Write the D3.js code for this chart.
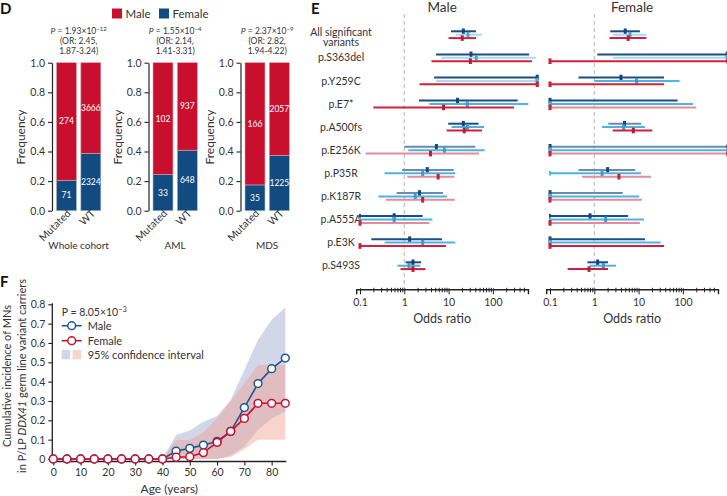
<!DOCTYPE html>
<html><head><meta charset="utf-8">
<script src="https://cdn.jsdelivr.net/npm/d3@7"></script>
<style>
body{margin:0;background:#fff}
text{font-family:Lato,"Open Sans",sans-serif;fill:#333}
</style>
</head><body>
<svg id="chart" width="727" height="496"></svg>
<script>
// ---------------- Panel D data ----------------
const dPanelNames = ["Whole cohort", "AML", "MDS"];
const dGroups = ["Mutated", "WT"];
const dMaleCounts = [[274, 3666], [102, 937], [166, 2057]];
const dFemaleCounts = [[71, 2324], [33, 648], [35, 1225]];
const dPMantissa = ["1.93", "1.55", "2.37"];
const dPExponent = ["\u221212", "\u22124", "\u22129"];
const dOR = ["2.45", "2.14", "2.82"];
const dORCI = ["1.87-3.24", "1.41-3.31", "1.94-4.22"];
const dTicks = [0, 0.2, 0.4, 0.6, 0.8, 1.0];
const sexLabels = ["Male", "Female"];

// ---------------- Panel E data ([OR, lower, upper]) ----------------
const eVariants = ["All significant variants", "p.S363del", "p.Y259C", "p.E7*", "p.A500fs",
  "p.E256K", "p.P35R", "p.K187R", "p.A555A", "p.E3K", "p.S493S"];
const eMaleMN = [[21.5, 11.3, 41.5], [32, 5.2, 660], [1000, 4.7, 1000], [15.9, 2.14, 363], [21.5, 9.8, 47.5],
  [5.3, 1.0, 40], [3.3, 0.9, 13], [2.2, 0.67, 7.5], [0.59, 0.1, 2.6], [1.32, 0.18, 7.1], [1.57, 1.07, 2.4]];
const eMaleAML = [[27.4, 14.4, 56.7], [42, 6.8, 940], [1000, 5.3, 1000], [26.5, 3.7, 630], [26.5, 11.7, 63],
  [8.0, 1.23, 65], [2.6, 0.36, 14.2], [1.77, 0.26, 9.3], [0.59, 0.1, 4.3], [2.6, 0.36, 14.2], [1.28, 0.70, 2.3]];
const eMaleMDS = [[20.3, 10, 41.5], [31, 4.1, 760], [1000, 2.2, 1000], [7.7, 0.20, 300], [22.6, 9.0, 56.7],
  [3.9, 0.134, 49], [5.8, 1.17, 13.5], [2.6, 0.38, 13.7], [0.1, 0.1, 3.7], [0.1, 0.1, 8.7], [1.57, 0.82, 3.0]];
const eFemaleMN = [[5.0, 2.3, 10.7], [1000, 1.17, 1000], [4.0, 0.44, 37.5], [0.1, 0.1, 76], [4.8, 2.07, 11.5],
  [0.1, 0.1, 1000], [2.0, 0.44, 8.4], [0.1, 0.1, 4.4], [0.80, 0.1, 5.8], [0.1, 0.1, 13.9], [1.19, 0.70, 2.04]];
const eFemaleAML = [[6.4, 2.6, 14.9], [1000, 2.6, 1000], [9.0, 1.0, 84], [0.1, 0.1, 169], [4.6, 1.5, 13.9],
  [0.1, 0.1, 1000], [1.5, 0.1, 11.3], [0.1, 0.1, 10.2], [1.8, 0.1, 13.2], [0.1, 0.1, 31.5], [1.6, 0.78, 3.1]];
const eFemaleMDS = [[5.8, 2.2, 14.9], [0.1, 0.1, 1000], [0.1, 0.1, 37.5], [0.1, 0.1, 200], [7.6, 2.6, 20.4],
  [0.1, 0.1, 1000], [3.6, 0.53, 19], [0.1, 0.1, 11.9], [0.1, 0.1, 10.7], [0.1, 0.1, 37.5], [0.76, 0.25, 2.04]];
// 1 = drawn in a pale tone in the original
const eMaleMNPale = [0, 0, 0, 0, 0, 1, 1, 1, 0, 0, 0];
const eMaleAMLPale = [1, 1, 1, 0, 0, 0, 0, 0, 0, 0, 0];
const eMaleMDSPale = [0, 0, 0, 0, 0, 1, 1, 1, 1, 0, 0];
const eFemaleMNPale = [0, 0, 0, 0, 1, 1, 1, 1, 0, 0, 0];
const eFemaleAMLPale = [1, 1, 0, 0, 0, 0, 0, 0, 0, 0, 0];
const eFemaleMDSPale = [0, 0, 0, 1, 0, 1, 1, 1, 1, 0, 0];
const eMajorTicks = [0.1, 1, 10, 100];
const eMinorTicks = [0.2, 0.3, 0.4, 0.5, 0.6, 0.7, 0.8, 0.9, 2, 3, 4, 5, 6, 7, 8, 9,
  20, 30, 40, 50, 60, 70, 80, 90, 200, 300, 400, 500];

// ---------------- Panel F data ----------------
const fAges = [0, 5, 10, 15, 20, 25, 30, 35, 40, 45, 50, 55, 60, 65, 70, 75, 80, 85];
const fMale = [0, 0, 0, 0, 0, 0, 0, 0, 0, 0.041, 0.055, 0.072, 0.091, 0.143, 0.266, 0.39, 0.467, 0.522];
const fFemale = [0, 0, 0, 0, 0, 0, 0, 0, 0, 0.009, 0.012, 0.033, 0.086, 0.143, 0.21, 0.288, 0.288, 0.288];
const fMaleLo = [0, 0, 0, 0, 0, 0, 0, 0, 0, 0, 0, 0, 0, 0.017, 0.064, 0.15, 0.21, 0.245];
const fMaleHi = [0, 0, 0, 0, 0, 0, 0, 0, 0, 0.124, 0.147, 0.193, 0.222, 0.305, 0.46, 0.616, 0.72, 0.783];
const fFemaleLo = [0, 0, 0, 0, 0, 0, 0, 0, 0, 0, 0, 0, 0, 0.01, 0.05, 0.10, 0.10, 0.10];
const fFemaleHi = [0, 0, 0, 0, 0, 0, 0, 0, 0, 0.098, 0.098, 0.138, 0.21, 0.297, 0.39, 0.486, 0.486, 0.486];
const fYTicks = [0, 0.1, 0.2, 0.3, 0.4, 0.5, 0.6, 0.7, 0.8];
const fXTicks = [0, 10, 20, 30, 40, 50, 60, 70, 80];

// ====================================================
const svg = d3.select("#chart");
const RED = "#c8102e", NAVY = "#124b80";
const TXT = "#333";

function letter(t, x, y) {
  svg.append("text").attr("x", x).attr("y", y).text(t)
    .attr("font-family", "Liberation Sans, Arial, sans-serif")
    .attr("font-weight", "bold").attr("font-size", 15).style("fill", "#111");
}
letter("D", 0, 14); letter("E", 311, 14); letter("F", 0, 287);

// ---------------- Panel D ----------------
const legX = d3.scalePoint().domain(sexLabels).range([112, 159]);
const legD = svg.append("g");
legD.selectAll("rect").data(sexLabels).join("rect")
  .attr("x", d => legX(d)).attr("y", 8.5).attr("width", 10).attr("height", 10)
  .attr("fill", (d, i) => i === 0 ? RED : NAVY);
legD.selectAll("text").data(sexLabels).join("text")
  .attr("x", d => legX(d) + 13.5).attr("y", 17.5).text(d => d)
  .attr("font-size", 11.5);

const dY = d3.scaleLinear().domain([0, 1]).range([210.7, 62.7]);
const dAxisX = [52, 148.5, 240.5];
dPanelNames.forEach((name, p) => {
  const g = svg.append("g").attr("transform", `translate(${dAxisX[p]},0)`);
  const x = d3.scaleBand().domain(dGroups).range([4.5, 48.8]).paddingInner(0.18);
  const bw = x.bandwidth();
  const rows = dGroups.map((grp, i) => {
    const m = dMaleCounts[p][i], f = dFemaleCounts[p][i];
    return {grp, m, f, ff: f / (m + f)};
  });
  g.selectAll("rect.f").data(rows).join("rect").attr("class", "f")
    .attr("x", d => x(d.grp)).attr("width", bw)
    .attr("y", d => dY(d.ff)).attr("height", d => dY(0) - dY(d.ff))
    .attr("fill", NAVY).attr("stroke", "#9fb6cf").attr("stroke-width", 0.6);
  g.selectAll("rect.m").data(rows).join("rect").attr("class", "m")
    .attr("x", d => x(d.grp)).attr("width", bw)
    .attr("y", dY(1)).attr("height", d => dY(d.ff) - dY(1))
    .attr("fill", RED).attr("stroke", "#d9a0aa").attr("stroke-width", 0.6);
  g.selectAll("text.fl").data(rows).join("text").attr("class", "fl")
    .attr("x", d => x(d.grp) + bw / 2).attr("y", d => dY(d.ff / 2)).attr("dy", "0.35em")
    .attr("text-anchor", "middle").attr("font-size", 8.5).style("fill", "#fff").text(d => d.f);
  g.selectAll("text.ml").data(rows).join("text").attr("class", "ml")
    .attr("x", d => x(d.grp) + bw / 2).attr("y", d => dY((d.ff + 1) / 2)).attr("dy", "0.35em")
    .attr("text-anchor", "middle").attr("font-size", 8.5).style("fill", "#fff").text(d => d.m);
  const ax = g.append("g").call(d3.axisLeft(dY).tickValues(dTicks).tickFormat(d3.format(".1f"))
    .tickSize(4).tickSizeOuter(0).tickPadding(3));
  ax.select(".domain").attr("stroke", "#222").attr("stroke-width", 1.2);
  ax.selectAll(".tick line").attr("stroke", "#222").attr("stroke-width", 1.1);
  ax.selectAll(".tick text").attr("font-size", 10.5).attr("font-family", "Lato").style("fill", TXT);
  g.append("text").attr("transform", `translate(-27,137) rotate(-90)`)
    .attr("text-anchor", "middle").attr("font-size", 12).text("Frequency");
  g.selectAll("text.xl").data(dGroups).join("text").attr("class", "xl")
    .attr("transform", d => `translate(${x(d) + bw / 2 + 5},${214}) rotate(-45)`)
    .attr("text-anchor", "end").attr("font-size", 10.5).text(d => d);
  const cx = (x(dGroups[0]) + x(dGroups[1]) + bw) / 2;
  g.append("text").attr("x", cx).attr("y", 249).attr("text-anchor", "middle")
    .attr("font-size", 10).text(name);
  const t1 = g.append("text").attr("x", cx).attr("y", 34).attr("text-anchor", "middle").attr("font-size", 8.5);
  t1.append("tspan").attr("font-style", "italic").text("P");
  t1.append("tspan").text(" = " + dPMantissa[p] + "\u00d710");
  t1.append("tspan").attr("dy", -3.5).attr("font-size", 6).text(dPExponent[p]);
  g.append("text").attr("x", cx).attr("y", 44).attr("text-anchor", "middle").attr("font-size", 8.5)
    .text("(OR: " + dOR[p] + ",");
  g.append("text").attr("x", cx).attr("y", 53.5).attr("text-anchor", "middle").attr("font-size", 8.5)
    .text(dORCI[p] + ")");
});

// ---------------- Panel E ----------------
const eY = d3.scalePoint().domain(eVariants).range([34.7, 265.7]);
const eSeries = [
  {off: -3.4, color: "#1a4e86", pale: "#6a8cb0", Male: eMaleMN, Female: eFemaleMN, MalePale: eMaleMNPale, FemalePale: eFemaleMNPale},
  {off: 0, color: "#4db2e6", pale: "#a9d9f3", Male: eMaleAML, Female: eFemaleAML, MalePale: eMaleAMLPale, FemalePale: eFemaleAMLPale},
  {off: 3.4, color: "#d2203c", pale: "#e68b9a", Male: eMaleMDS, Female: eFemaleMDS, MalePale: eMaleMDSPale, FemalePale: eFemaleMDSPale}
];
const eX = {
  Male: d3.scaleLog().domain([0.1, 1000]).range([360, 537.2]),
  Female: d3.scaleLog().domain([0.1, 1000]).range([550, 727.2])
};
const eLab = svg.append("g");
eVariants.forEach(v => {
  const words = v.split(" ");
  const t = eLab.append("text").attr("x", 341).attr("text-anchor", "middle").attr("font-size", 10.5);
  if (words.length > 1) {
    t.attr("y", eY(v) - 2.8).attr("dy", "0.35em");
    t.append("tspan").attr("x", 341).text(words.slice(0, -1).join(" "));
    t.append("tspan").attr("x", 341).attr("dy", 10.5).text(words[words.length - 1]);
  } else {
    t.attr("y", eY(v)).attr("dy", "0.35em").text(v);
  }
});

sexLabels.forEach(sex => {
  const xs = eX[sex];
  const g = svg.append("g");
  const mid = (xs(0.082) + xs(620)) / 2;
  g.append("text").attr("x", mid).attr("y", 11.5).attr("text-anchor", "middle").attr("font-size", 13.5).text(sex);
  g.append("line").attr("x1", xs(1)).attr("x2", xs(1)).attr("y1", 14).attr("y2", 289)
    .attr("stroke", "#c4c4c4").attr("stroke-width", 1.3).attr("stroke-dasharray", "4,3");
  eSeries.forEach(s => {
    const data = s[sex], pale = s[sex + "Pale"];
    const rows = data.map((d, i) => ({or: d[0], lo: d[1], hi: d[2], y: eY(eVariants[i]) + s.off, pale: pale[i]}));
    g.selectAll(null).data(rows).join("line")
      .attr("x1", d => xs(d.lo)).attr("x2", d => xs(d.hi)).attr("y1", d => d.y).attr("y2", d => d.y)
      .attr("stroke", d => d.pale ? s.pale : s.color).attr("stroke-width", 2);
    g.selectAll(null).data(rows).join("rect")
      .attr("x", d => xs(d.or) - 1.5).attr("y", d => d.y - 2.8).attr("width", 3).attr("height", 5.6)
      .attr("fill", d => d.pale ? d3.color(s.color).darker(0.2) : d3.color(s.color).darker(0.4));
    const ends = [];
    rows.forEach(d => {
      if (d.lo <= 0.1) ends.push({v: 0.1, y: d.y});
      if (d.hi >= 1000) ends.push({v: 1000, y: d.y});
    });
    g.selectAll(null).data(ends).join("rect")
      .attr("x", d => xs(d.v) - 1).attr("y", d => d.y - 2.2).attr("width", 2).attr("height", 4.4)
      .attr("fill", s.color);
  });
  const axScale = xs.copy().domain([0.082, 620]).range([xs(0.082), xs(620)]);
  const ax = g.append("g").attr("transform", "translate(0,289.3)")
    .call(d3.axisBottom(axScale).tickValues(eMajorTicks.concat(eMinorTicks))
      .tickFormat(d => eMajorTicks.includes(d) ? String(d) : "").tickSizeOuter(0).tickSize(5).tickPadding(4));
  ax.select(".domain").attr("stroke", "#222").attr("stroke-width", 1.4);
  ax.selectAll(".tick line").attr("stroke", "#222").attr("stroke-width", 1)
    .attr("y1", d => eMajorTicks.includes(d) ? -1 : -1.5)
    .attr("y2", d => eMajorTicks.includes(d) ? 5 : 3);
  ax.selectAll(".tick text").attr("font-size", 10.5).attr("font-family", "Lato").style("fill", TXT);
  g.append("text").attr("x", mid).attr("y", 323).attr("text-anchor", "middle").attr("font-size", 12.5).text("Odds ratio");
});

// ---------------- Panel F ----------------
const fx = d3.scaleLinear().domain([0, 85]).range([53.3, 285.3]);
const fy = d3.scaleLinear().domain([0, 0.8]).range([459, 304.3]);
const areaGen = (lo, hi) => d3.area().x((d, i) => fx(fAges[i])).y0((d, i) => fy(lo[i])).y1((d, i) => fy(hi[i]));
const MALE_F = "#1c5794", FEM_F = "#c8102e";
svg.append("path").datum(fAges).attr("d", areaGen(fMaleLo, fMaleHi)).attr("fill", "#a6aed4").attr("fill-opacity", 0.5);
svg.append("path").datum(fAges).attr("d", areaGen(fFemaleLo, fFemaleHi)).attr("fill", "#f0a090").attr("fill-opacity", 0.45);

const fxAx = svg.append("g").attr("transform", "translate(0,461.5)")
  .call(d3.axisBottom(fx).tickValues(fXTicks).tickSize(4).tickSizeOuter(0).tickPadding(3));
fxAx.select(".domain").attr("stroke", "#222").attr("stroke-width", 1.3).attr("d", `M${fx(0) - 1.3},0H${fx(85) + 1}`);
const fyAx = svg.append("g").attr("transform", `translate(${fx(0) - 1},0)`)
  .call(d3.axisLeft(fy).tickValues(fYTicks).tickFormat(d => d === 0 ? "0" : d3.format(".1f")(d))
    .tickSize(4).tickSizeOuter(0).tickPadding(3));
fyAx.select(".domain").attr("stroke", "#222").attr("stroke-width", 1.3).attr("d", `M0,${fy(0.8) - 1}V${462}`);
[fxAx, fyAx].forEach(a => {
  a.selectAll(".tick line").attr("stroke", "#222").attr("stroke-width", 1.1);
  a.selectAll(".tick text").attr("font-size", 10.5).attr("font-family", "Lato").style("fill", TXT);
});
svg.append("text").attr("x", (fx(0) + fx(85)) / 2).attr("y", 493).attr("text-anchor", "middle")
  .attr("font-size", 12).text("Age (years)");
const yt = svg.append("text").attr("transform", "translate(11.2,376) rotate(-90)")
  .attr("text-anchor", "middle").attr("font-size", 11);
yt.append("tspan").attr("x", 0).text("Cumulative incidence of MNs");
const yt2 = yt.append("tspan").attr("x", 0).attr("dy", 14.4);
yt2.append("tspan").text("in P/LP ");
yt2.append("tspan").attr("font-style", "italic").text("DDX41");
yt2.append("tspan").text(" germ line variant carriers");

const lineGen = vals => d3.line().x((d, i) => fx(fAges[i])).y((d, i) => fy(vals[i]));
[[fMale, MALE_F], [fFemale, FEM_F]].forEach(([vals, col]) => {
  svg.append("path").datum(fAges).attr("d", lineGen(vals)).attr("fill", "none")
    .attr("stroke", col).attr("stroke-width", 1.6);
  svg.selectAll(null).data(vals).join("circle")
    .attr("cx", (d, i) => fx(fAges[i])).attr("cy", d => fy(d)).attr("r", 3.9)
    .attr("fill", "#fff").attr("stroke", col).attr("stroke-width", 1.5);
});

const lf = svg.append("g");
const pt = lf.append("text").attr("x", 61.7).attr("y", 315.5).attr("font-size", 10.5);
pt.append("tspan").text("P = 8.05\u00d710");
pt.append("tspan").attr("dy", -4).attr("font-size", 7.5).text("\u22123");
const legY = d3.scalePoint().domain(sexLabels).range([325.7, 340.7]);
[[sexLabels[0], MALE_F], [sexLabels[1], FEM_F]].forEach(([lab, col]) => {
  const y = legY(lab);
  lf.append("line").attr("x1", 61.7).attr("x2", 81.7).attr("y1", y).attr("y2", y).attr("stroke", col).attr("stroke-width", 1.6);
  lf.append("circle").attr("cx", 71.7).attr("cy", y).attr("r", 3.9).attr("fill", "#fff").attr("stroke", col).attr("stroke-width", 1.5);
  lf.append("text").attr("x", 87.7).attr("y", y).attr("dy", "0.35em").attr("font-size", 11).text(lab);
});
lf.append("rect").attr("x", 61.7).attr("y", 350).attr("width", 8.5).attr("height", 9.3).attr("fill", "#a6aed4").attr("fill-opacity", 0.5);
lf.append("rect").attr("x", 72.7).attr("y", 350).attr("width", 8.5).attr("height", 9.3).attr("fill", "#f0a090").attr("fill-opacity", 0.45);
lf.append("text").attr("x", 87.7).attr("y", 354.7).attr("dy", "0.35em").attr("font-size", 11).text("95% confidence interval");
</script>
</body></html>
